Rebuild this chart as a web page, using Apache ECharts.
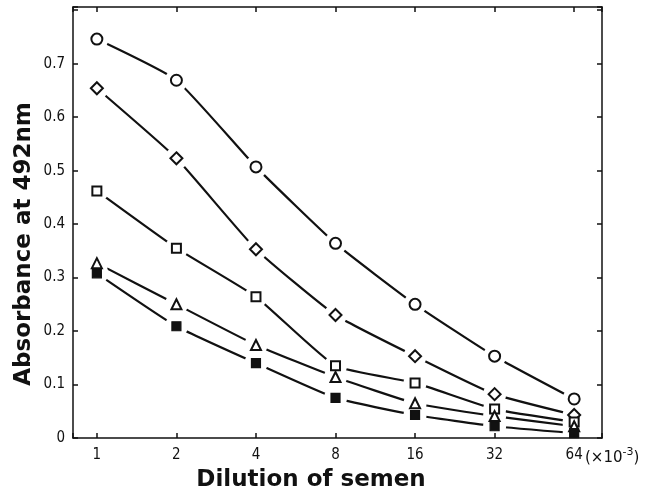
<!DOCTYPE html>
<html>
<head>
<meta charset="utf-8">
<script src="https://cdn.jsdelivr.net/npm/echarts@6/dist/echarts.min.js"></script>
<style>
  html, body { margin: 0; padding: 0; background: #fff; }
  #chart { width: 652px; height: 502px; }
</style>
</head>
<body>
<div id="chart"></div>
<script>
// dilution steps (x 10^-3)
const categories = ['1', '2', '4', '8', '16', '32', '64'];
// absorbance at 492nm, one array per curve
const openCircle = [0.746, 0.669, 0.507, 0.364, 0.250, 0.153, 0.073];
const openDiamond = [0.654, 0.523, 0.353, 0.230, 0.153, 0.082, 0.043];
const openSquare = [0.462, 0.355, 0.264, 0.135, 0.103, 0.054, 0.030];
const openTriangle = [0.327, 0.250, 0.174, 0.114, 0.065, 0.041, 0.022];
const filledSquare = [0.308, 0.209, 0.140, 0.075, 0.043, 0.022, 0.009];

const curves = [
  { name: 'circle', data: openCircle, symbol: 'emptyCircle', size: 11 },
  { name: 'diamond', data: openDiamond, symbol: 'emptyDiamond', size: 12 },
  { name: 'square', data: openSquare, symbol: 'emptyRect', size: 9 },
  { name: 'triangle', data: openTriangle, symbol: 'emptyTriangle', size: 10 },
  { name: 'filled', data: filledSquare, symbol: 'rect', size: 9 }
];

const chart = echarts.init(document.getElementById('chart'));
const tickFont = { fontFamily: 'DejaVu Sans Condensed', fontSize: 15, color: '#111' };
const lineStyle = { color: '#111', width: 1.5 };

const pts = arr => arr.map((v, i) => [i, v]);

const series = [];
curves.forEach(c => {
  // the curve itself (bottom layer)
  series.push({
    type: 'line', name: c.name, data: pts(c.data), showSymbol: false, smooth: 0.15,
    lineStyle: { color: '#111', width: 2.2 }, zlevel: 0, silent: true
  });
});
curves.forEach(c => {
  // white blob on an upper layer, opens a gap in the line around each marker
  series.push({
    type: 'scatter', data: pts(c.data), symbol: 'circle', symbolSize: 23,
    itemStyle: { color: '#fff', opacity: 1 }, zlevel: 1, z: 1, silent: true
  });
});
curves.forEach(c => {
  series.push({
    type: 'scatter', name: c.name, data: pts(c.data), symbol: c.symbol, symbolSize: c.size,
    itemStyle: { color: '#111', borderColor: '#111', borderWidth: 1.2, opacity: 1 },
    zlevel: 1, z: 5, silent: true
  });
});

const xBase = {
  type: 'value', min: -0.3, max: 6.35, splitNumber: 7, minInterval: 1, zlevel: 2,
  axisLine: { onZero: false, lineStyle: lineStyle },
  axisTick: { inside: true, length: 5, lineStyle: lineStyle },
  splitLine: { show: false }
};
const yBase = {
  type: 'value', min: 0, max: 0.806, interval: 0.1, zlevel: 2,
  axisLine: { onZero: false, lineStyle: lineStyle },
  axisTick: { inside: true, length: 5, lineStyle: lineStyle },
  splitLine: { show: false }
};

chart.setOption({
  animation: false,
  backgroundColor: '#fff',
  grid: { left: 73, right: 50, top: 7, bottom: 64 },
  xAxis: [
    Object.assign({}, xBase, {
      position: 'bottom',
      axisLabel: Object.assign({}, tickFont, {
        margin: 10,
        formatter: v => (Number.isInteger(v) ? categories[v] : '')
      })
    }),
    Object.assign({}, xBase, { position: 'top', axisLabel: { show: false } })
  ],
  yAxis: [
    Object.assign({}, yBase, {
      position: 'left',
      axisLabel: Object.assign({}, tickFont, {
        margin: 8,
        formatter: v => (v > 0.75 ? '' : String(Math.round(v * 10) / 10))
      })
    }),
    Object.assign({}, yBase, { position: 'right', axisLabel: { show: false } })
  ],
  graphic: [
    {
      type: 'text', x: 24, y: 244, rotation: Math.PI / 2,
      style: {
        text: 'Absorbance at 492nm', font: 'bold 23px "DejaVu Sans"',
        fill: '#111', align: 'center', verticalAlign: 'middle'
      }
    },
    {
      type: 'text', x: 311, y: 480,
      style: {
        text: 'Dilution of semen', font: 'bold 23px "DejaVu Sans"',
        fill: '#111', align: 'center', verticalAlign: 'middle'
      }
    },
    {
      type: 'text', x: 585, y: 456,
      style: {
        text: '{a|(×10}{b|-3}{a|)}', verticalAlign: 'middle', align: 'left',
        rich: {
          a: { fontFamily: 'DejaVu Sans', fontSize: 15, fill: '#111', verticalAlign: 'bottom' },
          b: { fontFamily: 'DejaVu Sans', fontSize: 11, fill: '#111', verticalAlign: 'top', padding: [0, 0, 8, 0] }
        }
      }
    }
  ],
  series: series
});
</script>
</body>
</html>
